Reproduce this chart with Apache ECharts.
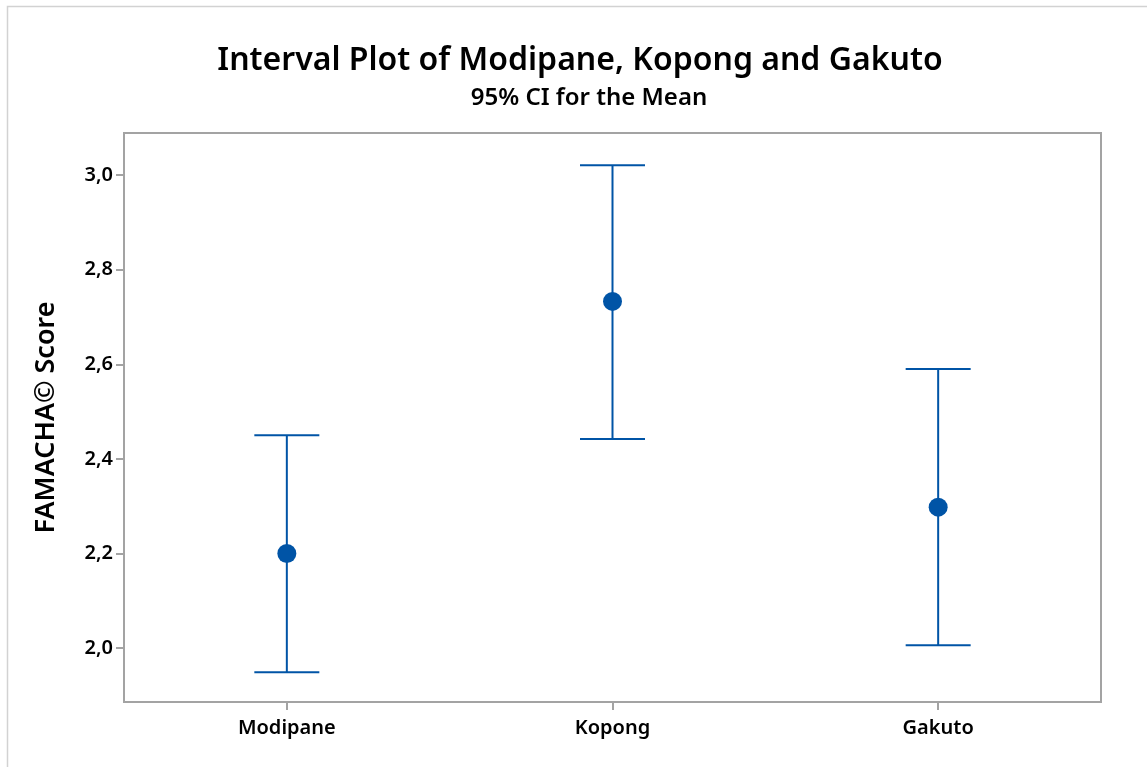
<!DOCTYPE html>
<html>
<head>
<meta charset="utf-8">
<script src="https://cdn.jsdelivr.net/npm/echarts@6/dist/echarts.min.js"></script>
<style>
html,body{margin:0;padding:0;background:#fff;}
#chart{width:1147px;height:767px;}
</style>
</head>
<body>
<div id="chart"></div>
<script>
var categories = ['Modipane', 'Kopong', 'Gakuto'];
var means = [2.200, 2.733, 2.298];
var lowerCI = [1.949, 2.442, 2.006];
var upperCI = [2.450, 3.021, 2.590];
var yTicks = [2.0, 2.2, 2.4, 2.6, 2.8, 3.0];

var blue = '#0054a6';
var frameGray = '#a3a3a3';
var fontFam = '"Noto Sans", "Open Sans", sans-serif';

var chart = echarts.init(document.getElementById('chart'));

var errData = categories.map(function (c, i) { return [i, lowerCI[i], upperCI[i]]; });
var meanData = categories.map(function (c, i) { return [i, means[i]]; });

chart.setOption({
  animation: false,
  backgroundColor: '#fff',
  graphic: [
    { type: 'rect', shape: { x: 7.5, y: 6.5, width: 1160, height: 800 },
      style: { fill: 'none', stroke: '#d2d2d2', lineWidth: 1.5 }, z: -10 },
    { type: 'text', x: 580, y: 61,
      style: { text: 'Interval Plot of Modipane, Kopong and Gakuto', font: '600 32px ' + fontFam, fill: '#000', align: 'center', verticalAlign: 'middle' } },
    { type: 'text', x: 589, y: 98,
      style: { text: '95% CI for the Mean', font: '600 24px ' + fontFam, fill: '#000', align: 'center', verticalAlign: 'middle' } }
  ],
  grid: { left: 124, right: 46, top: 133, bottom: 65, show: true, borderColor: frameGray, borderWidth: 2, backgroundColor: '#fff' },
  xAxis: {
    type: 'category',
    data: categories,
    boundaryGap: true,
    axisLine: { show: true, lineStyle: { color: frameGray, width: 2 } },
    axisTick: { show: true, alignWithLabel: true, length: 8, lineStyle: { color: frameGray, width: 2 } },
    axisLabel: { color: '#000', fontSize: 20, fontWeight: 600, fontFamily: fontFam, margin: 16 },
    splitLine: { show: false }
  },
  yAxis: {
    type: 'value',
    min: 1.886,
    max: 3.089,
    name: 'FAMACHA\u00A9 Score',
    nameLocation: 'middle',
    nameGap: 64,
    nameTextStyle: { color: '#000', fontSize: 27, fontWeight: 600, fontFamily: fontFam },
    axisLine: { show: true, lineStyle: { color: frameGray, width: 2 } },
    axisTick: { show: true, length: 8, customValues: yTicks, lineStyle: { color: frameGray, width: 2 } },
    axisLabel: { color: '#000', fontSize: 20, fontWeight: 600, fontFamily: fontFam, margin: 11,
      customValues: yTicks,
      formatter: function (v) { return v.toFixed(1).replace('.', ','); } },
    splitLine: { show: false }
  },
  series: [
    {
      type: 'custom',
      data: errData,
      renderItem: function (params, api) {
        var x = api.value(0);
        var lo = api.coord([x, api.value(1)]);
        var hi = api.coord([x, api.value(2)]);
        var hw = 32.5;
        var st = { stroke: blue, lineWidth: 2, fill: 'none' };
        return {
          type: 'group',
          children: [
            { type: 'line', shape: { x1: lo[0], y1: lo[1], x2: hi[0], y2: hi[1] }, style: st },
            { type: 'line', shape: { x1: lo[0] - hw, y1: lo[1], x2: lo[0] + hw, y2: lo[1] }, style: st },
            { type: 'line', shape: { x1: hi[0] - hw, y1: hi[1], x2: hi[0] + hw, y2: hi[1] }, style: st }
          ]
        };
      },
      z: 2
    },
    {
      type: 'scatter',
      data: meanData,
      symbol: 'circle',
      symbolSize: 19,
      itemStyle: { color: blue, opacity: 1 },
      z: 3
    }
  ]
});
</script>
</body>
</html>
